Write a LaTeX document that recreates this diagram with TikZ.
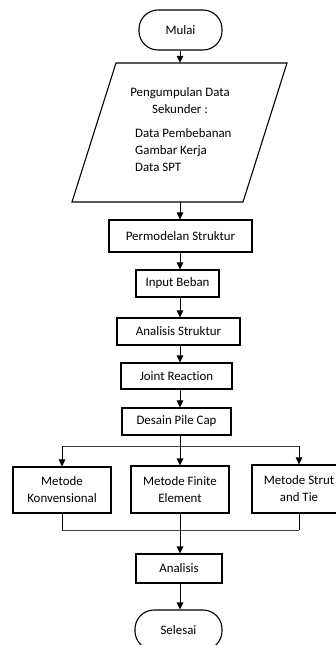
\documentclass[tikz,border=0pt]{standalone}
\usepackage{fontspec}
\setmainfont[Ligatures={NoCommon,NoDiscretionary,NoRare}]{Carlito}
\usetikzlibrary{arrows.meta}
\begin{document}
\begin{tikzpicture}[x=1pt,y=-1pt,
  every node/.style={font=\fontsize{12.9}{17}\selectfont, inner sep=0pt, align=center},
  box/.style={draw, line width=1.1pt, minimum width=#1},
  term/.style={draw, line width=1.1pt, rounded corners=19pt, minimum width=83pt, minimum height=40pt},
  arr/.style={line width=1pt, -{Triangle[length=7pt,width=6.5pt]}},
  conn/.style={line width=1pt, draw=black!75}]
\useasboundingbox (0,0) rectangle (336,645);
\clip (0,0) rectangle (336,645);
\coordinate (sp) at (180,0);
\coordinate (split) at (180,446);
\coordinate (join) at (180,530);

\node[term] (mulai) at (180.5,30) {Mulai};

\node[minimum width=127pt, minimum height=139pt] (data) at (179.5,132.5) {};
\draw[line width=1.1pt] (116,63) -- (287,63) -- (243,202) -- (72,202) -- cycle;
\node (t1) at (180,101) {Pengumpulan Data\\Sekunder :};
\node[anchor=west, align=left] (t2) at (135,150.5) {Data Pembebanan\\Gambar Kerja\\Data SPT};

\node[box=143pt, minimum height=32pt] (perm) at (180.5,236) {Permodelan Struktur};
\node[box=83pt, minimum height=27pt] (input) at (177.5,283.5) {Input Beban};
\node[box=123pt, minimum height=27pt] (anal) at (178.5,331.5) {Analisis Struktur};
\node[box=111pt, minimum height=26pt] (joint) at (176.5,376) {Joint Reaction};
\node[box=109pt, minimum height=27pt] (desain) at (176.5,421.5) {Desain Pile Cap};

\node[box=98pt, minimum height=46pt] (konv) at (62,490) {Metode\\Konvensional};
\node[box=98pt, minimum height=47pt] (fin) at (180,489.5) {Metode Finite\\Element};
\node[box=94pt, minimum height=48pt] (strut) at (299,489) {Metode Strut\\and Tie};

\node[box=86pt, minimum height=29pt] (analisis) at (179,568.5) {Analisis};
\node[term, minimum width=87pt] (selesai) at (178.5,630) {Selesai};

\draw[arr] (mulai.south -| sp) -- (data.north -| sp);
\draw[arr] (data.south -| sp) -- (perm.north -| sp);
\draw[arr] (perm.south -| sp) -- (input.north -| sp);
\draw[arr] (input.south -| sp) -- (anal.north -| sp);
\draw[arr] (anal.south -| sp) -- (joint.north -| sp);
\draw[arr] (joint.south -| sp) -- (desain.north -| sp);

\draw[line width=1pt] (desain.south -| split) -- (split);
\draw[conn] (konv.north |- split) -- (strut.north |- split);
\draw[arr] (split -| konv.north) -- (konv.north);
\draw[arr] (split) -- (fin.north -| split);
\draw[arr] (split -| strut.north) -- (strut.north);

\draw[line width=1pt] (konv.south) -- (konv.south |- join);
\draw[line width=1pt] (fin.south -| join) -- (join);
\draw[line width=1pt] (strut.south) -- (strut.south |- join);
\draw[conn] (konv.south |- join) -- (strut.south |- join);
\draw[arr] (join) -- (analisis.north -| join);
\draw[arr] (analisis.south -| sp) -- (selesai.north -| sp);
\end{tikzpicture}
\end{document}
